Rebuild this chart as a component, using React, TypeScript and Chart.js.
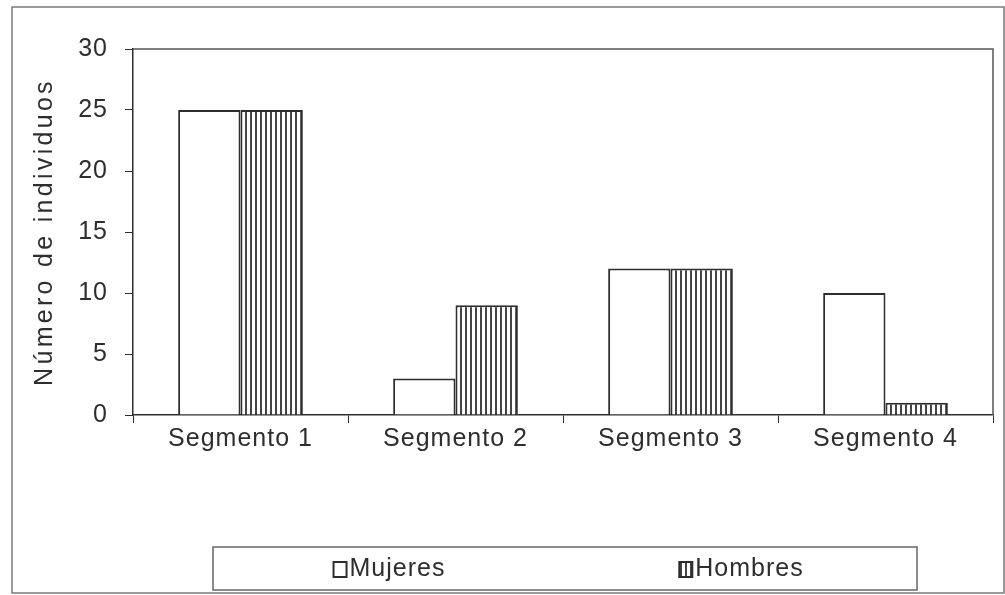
import React, { useEffect, useRef } from "react";
import { Chart, registerables } from "chart.js";

Chart.register(...registerables);

const categories = ["Segmento 1", "Segmento 2", "Segmento 3", "Segmento 4"];
const mujeres = [25, 3, 12, 10];
const hombres = [25, 9, 12, 1];
const seriesLabels = ["Mujeres", "Hombres"];
const yTicks = [0, 5, 10, 15, 20, 25, 30];
const yTitle = "Número de individuos";

const INK = "#2e2e2e";
const FONT_FAMILY = "'Liberation Sans', Arial, sans-serif";
const FS = 25;

function makeStripes(): CanvasPattern | string {
  const c = document.createElement("canvas");
  c.width = 5;
  c.height = 4;
  const x = c.getContext("2d");
  if (!x) return "#999";
  x.fillStyle = "#ffffff";
  x.fillRect(0, 0, 5, 4);
  x.fillStyle = "#444444";
  x.fillRect(0, 0, 2, 4);
  return x.createPattern(c, "repeat") || "#999";
}

export default function App() {
  const ref = useRef<HTMLCanvasElement | null>(null);

  useEffect(() => {
    if (!ref.current) return;
    const stripes = makeStripes();

    const framePlugin = {
      id: "frameAndLegend",
      afterLayout(chart: any) {
        const s = chart.scales.y;
        if (s && !s.__wrapped) {
          const orig = s.drawTitle.bind(s);
          s.drawTitle = (...args: any[]) => {
            const ctx = chart.ctx;
            ctx.save();
            (ctx as any).letterSpacing = "3.3px";
            orig(...args);
            ctx.restore();
          };
          s.__wrapped = true;
        }
      },
      beforeDraw(chart: any) {
        const ctx = chart.ctx as CanvasRenderingContext2D;
        const W = chart.width;
        const H = chart.height;
        ctx.save();
        ctx.fillStyle = "#ffffff";
        ctx.fillRect(0, 0, W, H);
        ctx.strokeStyle = "#7a7a7a";
        ctx.lineWidth = 1.5;
        ctx.strokeRect(12, 7, W - 12 - 1, H - 7 - 2);
        ctx.restore();

        const lx = 213, ly = 547, lw = 704, lh = 43;
        ctx.save();
        ctx.strokeStyle = "#666666";
        ctx.lineWidth = 1.5;
        ctx.strokeRect(lx, ly, lw, lh);
        ctx.font = FS + "px " + FONT_FAMILY;
        (ctx as any).letterSpacing = "1px";
        ctx.textBaseline = "middle";
        ctx.textAlign = "left";
        const ds = chart.data.datasets;
        for (let i = 0; i < ds.length; i++) {
          const label = ds[i].label as string;
          const tw = ctx.measureText(label).width;
          const sw = 13, sh = 15, gap = 2;
          const total = sw + gap + tw;
          const cx = lx + (i + 0.5) * (lw / ds.length);
          const x0 = cx - total / 2;
          const cy = ly + lh / 2 + 1;
          ctx.fillStyle = ds[i].backgroundColor;
          ctx.fillRect(x0, cy - sh / 2, sw, sh);
          ctx.strokeStyle = INK;
          ctx.lineWidth = 2;
          ctx.strokeRect(x0, cy - sh / 2, sw, sh);
          ctx.fillStyle = INK;
          ctx.fillText(label, x0 + sw + gap + 1, cy);
        }
        ctx.restore();
        (ctx as any).letterSpacing = "1px";
      },
      afterDraw(chart: any) {
        const ctx = chart.ctx as CanvasRenderingContext2D;
        const a = chart.chartArea;
        ctx.save();
        ctx.strokeStyle = "#555555";
        ctx.lineWidth = 1.5;
        ctx.beginPath();
        ctx.moveTo(a.left, a.top);
        ctx.lineTo(a.right, a.top);
        ctx.lineTo(a.right, a.bottom);
        ctx.stroke();
        ctx.restore();
      },
    };

    const chart = new Chart(ref.current, {
      type: "bar",
      data: {
        labels: categories,
        datasets: [
          {
            label: seriesLabels[0],
            data: mujeres,
            backgroundColor: "#ffffff",
            borderColor: INK,
            borderWidth: 2,
            categoryPercentage: 0.58,
            barPercentage: 1.0,
          },
          {
            label: seriesLabels[1],
            data: hombres,
            backgroundColor: stripes as any,
            borderColor: INK,
            borderWidth: 2,
            categoryPercentage: 0.58,
            barPercentage: 1.0,
          },
        ],
      },
      options: {
        animation: false,
        responsive: true,
        maintainAspectRatio: false,
        devicePixelRatio: 1,
        layout: { padding: { left: 0, top: 49, right: 12, bottom: 130 } },
        plugins: {
          legend: { display: false },
          tooltip: { enabled: false },
        },
        scales: {
          x: {
            grid: {
              display: true,
              drawOnChartArea: false,
              drawTicks: true,
              tickLength: 8,
              tickColor: INK,
              offset: true,
            },
            border: { display: true, color: INK, width: 1.5 },
            ticks: {
              color: INK,
              padding: 1,
              maxRotation: 0,
              font: { family: FONT_FAMILY, size: FS },
            },
            afterFit: (s: any) => {
              s.height = 50;
            },
          },
          y: {
            min: 0,
            max: 30,
            afterBuildTicks: (s: any) => {
              s.ticks = yTicks.map((v) => ({ value: v }));
            },
            grid: {
              display: true,
              drawOnChartArea: false,
              drawTicks: true,
              tickLength: 8,
              tickColor: INK,
            },
            border: { display: true, color: INK, width: 1.5 },
            ticks: {
              color: INK,
              padding: 17,
              font: { family: FONT_FAMILY, size: FS },
            },
            title: {
              display: true,
              text: yTitle,
              color: INK,
              padding: { top: 30, bottom: 0 },
              font: { family: FONT_FAMILY, size: FS },
            },
            afterFit: (s: any) => {
              s.width = 133;
            },
          },
        },
      },
      plugins: [framePlugin],
    });

    return () => chart.destroy();
  }, []);

  return (
    <div
      style={{
        position: "fixed",
        left: 0,
        top: 0,
        width: 1005,
        height: 595,
        background: "#fff",
      }}
    >
      <canvas ref={ref} />
    </div>
  );
}
